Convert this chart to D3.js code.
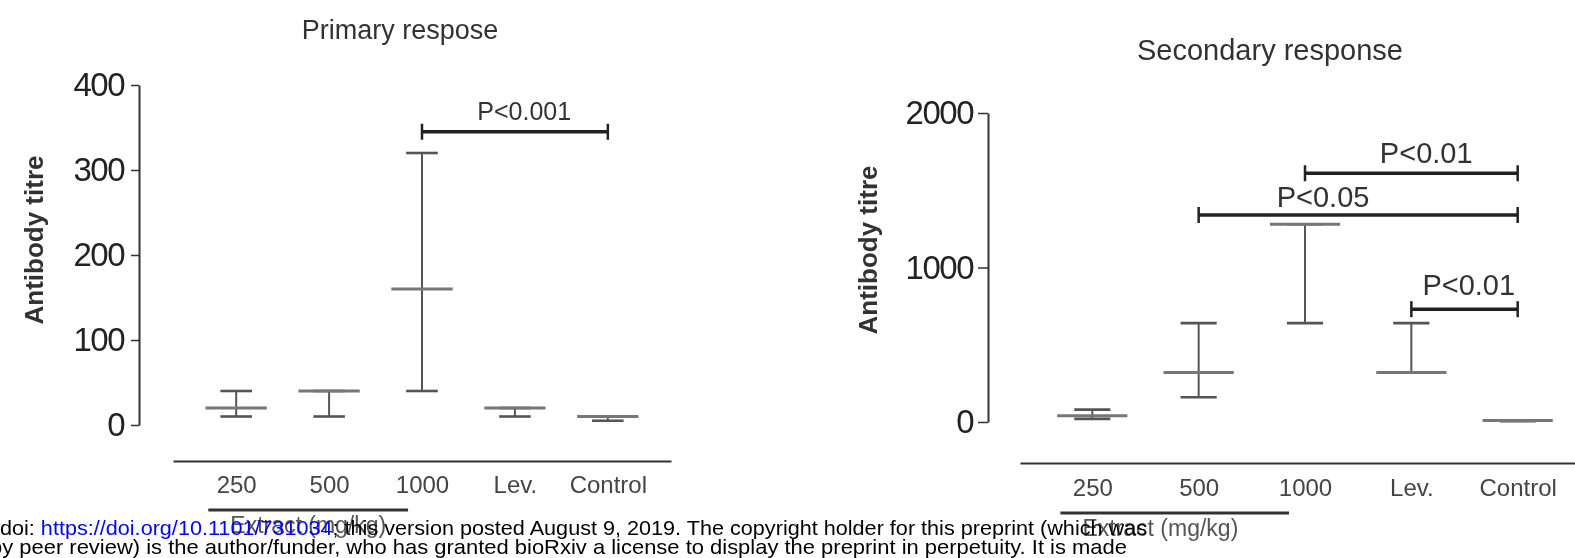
<!DOCTYPE html>
<html>
<head>
<meta charset="utf-8">
<script src="https://cdn.jsdelivr.net/npm/d3@7"></script>
<style>
  html, body { margin: 0; padding: 0; background: #fff; }
  svg { display: block; }
  text { font-family: "Liberation Sans", Arial, sans-serif; }
</style>
</head>
<body>
<svg id="fig" width="1575" height="558"></svg>
<script>
// Treatment groups (extract doses in mg/kg, levamisole, control)
const categories = ["250", "500", "1000", "Lev.", "Control"];

// Primary response: median titre with min/max range
const primaryMedian = [20, 40, 160, 20, 10];
const primaryLow    = [10, 10, 40, 10, 5];
const primaryHigh   = [40, 40, 320, 20, 10];
const primaryTicks  = [0, 100, 200, 300, 400];

// Secondary response: median titre with min/max range
const secondaryMedian = [40, 320, 1280, 320, 10];
const secondaryLow    = [20, 160, 640, 320, 5];
const secondaryHigh   = [80, 640, 1280, 640, 10];
const secondaryTicks  = [0, 1000, 2000];

// Pairwise comparisons
const primarySigFrom   = ["1000"];
const primarySigTo     = ["Control"];
const primarySigLevel  = [345];
const primarySigLabel  = ["P<0.001"];

const secondarySigFrom  = ["1000", "500", "Lev."];
const secondarySigTo    = ["Control", "Control", "Control"];
const secondarySigLevel = [1610, 1340, 730];
const secondarySigLabel = ["P<0.01", "P<0.05", "P<0.01"];

const titles = ["Primary respose", "Secondary response"];
const yTitle = "Antibody titre";
const groupTitle = "Extract (mg/kg)";

const svg = d3.select("#fig");

// soft look of the plotted figure
const defs = svg.append("defs");
defs.append("filter").attr("id", "soft")
  .attr("x", "-5%").attr("y", "-5%").attr("width", "110%").attr("height", "110%")
  .append("feGaussianBlur").attr("stdDeviation", 0.6);

const fig = svg.append("g").attr("filter", "url(#soft)");

function panel(opts) {
  const g = fig.append("g");
  const x = d3.scalePoint().domain(categories)
    .range([opts.xLeft, opts.xRight]).padding(0.68);
  const y = d3.scaleLinear().domain([0, opts.yMax]).range([opts.yBottom, opts.yTop]);
  const step = x.step();

  // title
  g.append("text")
    .attr("x", opts.titleX).attr("y", opts.titleY)
    .attr("text-anchor", "middle")
    .attr("font-size", opts.titleSize).attr("fill", "#333")
    .text(opts.title);

  // y axis
  const ax = g.append("g")
    .attr("transform", `translate(${opts.axisX},0)`)
    .call(d3.axisLeft(y).tickValues(opts.ticks).tickSize(opts.tickLen)
      .tickPadding(opts.tickPad).tickFormat(d3.format("d")).tickSizeOuter(0));
  ax.select(".domain").attr("stroke", "#333").attr("stroke-width", 2);
  ax.selectAll(".tick line").attr("stroke", "#333").attr("stroke-width", 1.5);
  ax.selectAll(".tick text")
    .attr("font-family", "'Liberation Sans', Arial, sans-serif")
    .attr("font-size", opts.tickFont).attr("fill", "#222")
    .attr("letter-spacing", -1.5);

  // y axis title
  g.append("text")
    .attr("transform", `translate(${opts.yTitleX},${opts.yTitleY}) rotate(-90)`)
    .attr("text-anchor", "middle")
    .attr("font-size", 26).attr("font-weight", "bold").attr("fill", "#333")
    .text(yTitle);

  // x axis baseline with category labels
  const xa = g.append("g")
    .attr("transform", `translate(0,${opts.xAxisY})`)
    .call(d3.axisBottom(x).tickSize(0).tickPadding(opts.xLabelPad).tickSizeOuter(0));
  xa.select(".domain").attr("stroke", "#333").attr("stroke-width", 2.2);
  xa.selectAll(".tick text")
    .attr("font-family", "'Liberation Sans', Arial, sans-serif")
    .attr("font-size", 24).attr("fill", "#444");

  // extract group bracket and caption
  const gx0 = x("250") - 0.3 * step, gx1 = x("1000") - 0.15 * step;
  g.append("line")
    .attr("x1", gx0).attr("x2", gx1)
    .attr("y1", opts.groupY).attr("y2", opts.groupY)
    .attr("stroke", "#333").attr("stroke-width", 3);
  g.append("text")
    .attr("x", gx0 + 22).attr("y", opts.groupY + 23)
    .attr("font-size", 23).attr("fill", "#555")
    .text(groupTitle);

  // median and range bars
  const rows = categories.map((c, i) => ({
    c, med: opts.med[i], lo: opts.lo[i], hi: opts.hi[i]
  }));
  const marks = g.append("g");
  marks.selectAll(".range").data(rows).join("line")
    .attr("x1", d => x(d.c)).attr("x2", d => x(d.c))
    .attr("y1", d => y(d.lo)).attr("y2", d => y(d.hi))
    .attr("stroke", "#555").attr("stroke-width", 2);
  ["lo", "hi"].forEach(k => {
    marks.selectAll(".cap-" + k).data(rows).join("line")
      .attr("x1", d => x(d.c) - 0.17 * step).attr("x2", d => x(d.c) + 0.17 * step)
      .attr("y1", d => y(d[k])).attr("y2", d => y(d[k]))
      .attr("stroke", "#555").attr("stroke-width", 2.6);
  });
  marks.selectAll(".median").data(rows).join("line")
    .attr("x1", d => x(d.c) - 0.33 * step).attr("x2", d => x(d.c) + 0.33 * step)
    .attr("y1", d => y(d.med)).attr("y2", d => y(d.med))
    .attr("stroke", "#777").attr("stroke-width", 3);

  // significance brackets
  const sig = opts.sigFrom.map((f, i) => ({
    f, t: opts.sigTo[i], v: opts.sigLevel[i], label: opts.sigLabel[i],
    at: opts.labelAt[i], rise: opts.labelRise[i]
  }));
  const sg = g.append("g");
  sg.selectAll(".bar").data(sig).join("line")
    .attr("x1", d => x(d.f)).attr("x2", d => x(d.t))
    .attr("y1", d => y(d.v)).attr("y2", d => y(d.v))
    .attr("stroke", "#222").attr("stroke-width", 3.5);
  ["f", "t"].forEach(k => {
    sg.selectAll(".end-" + k).data(sig).join("line")
      .attr("x1", d => x(d[k])).attr("x2", d => x(d[k]))
      .attr("y1", d => y(d.v) - 8).attr("y2", d => y(d.v) + 8)
      .attr("stroke", "#222").attr("stroke-width", 2.5);
  });
  sg.selectAll(".lbl").data(sig).join("text")
    .attr("x", d => x(d.f) + d.at * (x(d.t) - x(d.f)))
    .attr("y", d => y(d.v) - d.rise)
    .attr("text-anchor", "middle")
    .attr("font-size", opts.sigFont).attr("fill", "#333")
    .text(d => d.label);
}

panel({
  title: titles[0], titleX: 400, titleY: 39, titleSize: 27,
  xLeft: 173, xRight: 671, xAxisY: 461, xLabelPad: 15, groupY: 510,
  yMax: 400, yTop: 85, yBottom: 425, axisX: 139, ticks: primaryTicks,
  tickLen: 8, tickPad: 7, tickFont: 33,
  yTitleX: 43, yTitleY: 240,
  med: primaryMedian, lo: primaryLow, hi: primaryHigh,
  sigFrom: primarySigFrom, sigTo: primarySigTo, sigLevel: primarySigLevel,
  sigLabel: primarySigLabel, labelAt: [0.55], labelRise: [12], sigFont: 25
});

panel({
  title: titles[1], titleX: 1270, titleY: 60, titleSize: 29,
  xLeft: 1020, xRight: 1590, xAxisY: 463, xLabelPad: 16, groupY: 513,
  yMax: 2000, yTop: 113, yBottom: 422, axisX: 988, ticks: secondaryTicks,
  tickLen: 10, tickPad: 5, tickFont: 33,
  yTitleX: 877, yTitleY: 250,
  med: secondaryMedian, lo: secondaryLow, hi: secondaryHigh,
  sigFrom: secondarySigFrom, sigTo: secondarySigTo, sigLevel: secondarySigLevel,
  sigLabel: secondarySigLabel, labelAt: [0.57, 0.39, 0.54], labelRise: [10, 8, 14], sigFont: 29
});

// preprint notice printed over the figure
const note = svg.append("g").attr("font-size", 21).attr("fill", "#000");
const l1 = note.append("text").attr("x", 0).attr("y", 535)
  .attr("textLength", 1147).attr("lengthAdjust", "spacingAndGlyphs");
l1.append("tspan").text("doi: ");
l1.append("tspan").attr("fill", "#0000ff").text("https://doi.org/10.1101/731034");
l1.append("tspan").text("; this version posted August 9, 2019. The copyright holder for this preprint (which was");
note.append("text").attr("x", -10).attr("y", 554)
  .attr("textLength", 1137).attr("lengthAdjust", "spacingAndGlyphs")
  .text("by peer review) is the author/funder, who has granted bioRxiv a license to display the preprint in perpetuity. It is made");
</script>
</body>
</html>
